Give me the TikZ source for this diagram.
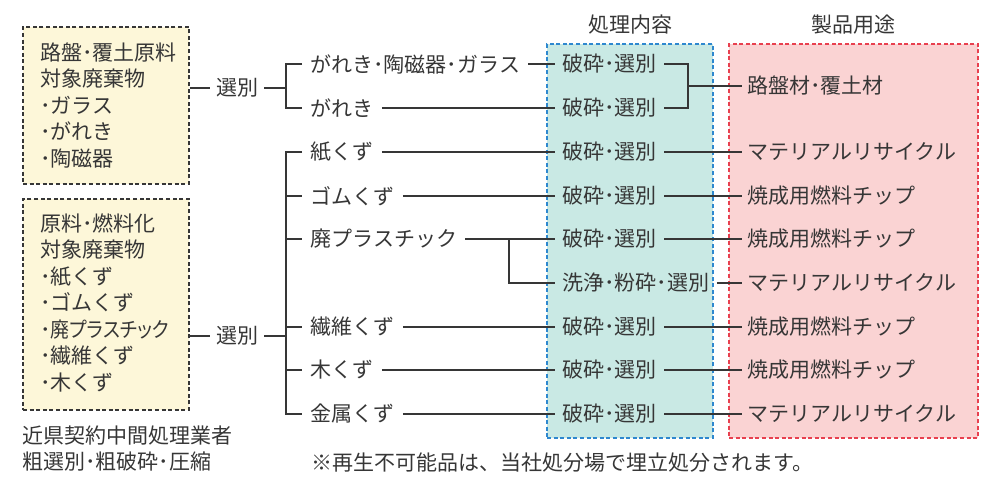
\documentclass[tikz,border=0pt]{standalone}
\usepackage{fontspec}
\usepackage{graphicx}
\setmainfont{Noto Sans CJK JP}
\newfontfamily\paltfont[RawFeature=+palt]{Noto Sans CJK JP}
\definecolor{ink}{HTML}{363636}
\definecolor{boxyellow}{HTML}{FDF7D9}
\definecolor{boxteal}{HTML}{C9E9E4}
\definecolor{boxred}{HTML}{FAD3D3}
\definecolor{edgeblue}{HTML}{2E88CF}
\definecolor{edgered}{HTML}{E8404F}
\begin{document}
\begin{tikzpicture}[x=0.5pt,y=-0.5pt,
  every node/.style={text=ink,font=\fontsize{10.5pt}{13.25pt}\selectfont},
  line/.style={draw=ink,line width=0.75pt},
  dashbox/.style={line width=0.7pt,dash pattern=on 2pt off 1.3pt},
  item/.style={anchor=west,inner xsep=4pt,inner ysep=0pt},
  proc/.style={anchor=west,inner xsep=3.5pt,inner ysep=0pt},
  prod/.style={anchor=west,inner xsep=2.5pt,inner ysep=0pt},
  sel/.style={inner xsep=3pt,inner ysep=0pt},
  txt/.style={anchor=north west,align=left,inner sep=0pt}]

\useasboundingbox (0,0) rectangle (1000,491);

% boxes
\node[dashbox,draw=ink,fill=boxyellow,minimum width=83pt,minimum height=78.5pt] (src1) at (106,105.5) {};
\node[dashbox,draw=ink,fill=boxyellow,minimum width=83pt,minimum height=105.5pt] (src2) at (106,304.5) {};
\node[dashbox,draw=edgeblue,fill=boxteal,minimum width=83pt,minimum height=197pt] (procbox) at (630,241) {};
\node[dashbox,draw=edgered,fill=boxred,minimum width=124.5pt,minimum height=197pt] (prodbox) at (853.5,241) {};

\node (prochead) at (630,25) {処理内容};
\node (prodhead) at (853.5,25) {製品用途};

\node[txt] (src1txt) at (40,42) {路盤･覆土原料\\対象廃棄物\\･ガラス\\･がれき\\･陶磁器};
\node[txt] (src2txt) at (40,213) {原料･燃料化\\対象廃棄物\\･紙くず\\･ゴムくず\\･\scalebox{0.9}[1]{\paltfont 廃プラスチック}\\･繊維くず\\･木くず};
\node[txt] (agent) at (22,425) {近県契約中間処理業者\\粗選別･粗破砕･圧縮};
\node[anchor=west,inner sep=0pt] (note) at (311,463) {※再生不可能品は、当社処分場で埋立処分されます。};

% sorting
\node[sel] (sel1) at (237,88) {選別};
\node[sel] (sel2) at (237,336) {選別};
\coordinate (fork1) at (286,88);
\coordinate (fork2) at (286,336);

% items
\node[item] (i1) at (302,64) {がれき･陶磁器･ガラス};
\node[item] (i2) at (302,108) {がれき};
\node[item] (i3) at (302,152) {紙くず};
\node[item] (i4) at (302,196) {ゴムくず};
\node[item] (i5) at (302,239) {廃プラスチック};
\node[item] (i6) at (302,327) {繊維くず};
\node[item] (i7) at (302,370) {木くず};
\node[item] (i8) at (302,414) {金属くず};

% treatment
\node[proc] (p1) at (555,64) {破砕･選別};
\node[proc] (p2) at (555,108) {破砕･選別};
\node[proc] (p3) at (555,152) {破砕･選別};
\node[proc] (p4) at (555,196) {破砕･選別};
\node[proc] (p5) at (555,239) {破砕･選別};
\node[proc] (p6) at (555,283) {洗浄･粉砕･選別};
\node[proc] (p7) at (555,327) {破砕･選別};
\node[proc] (p8) at (555,370) {破砕･選別};
\node[proc] (p9) at (555,414) {破砕･選別};

% products
\node[prod] (r1) at (742,86) {路盤材･覆土材};
\node[prod] (r3) at (742,152) {マテリアルリサイクル};
\node[prod] (r4) at (742,196) {焼成用燃料チップ};
\node[prod] (r5) at (742,239) {焼成用燃料チップ};
\node[prod] (r6) at (742,283) {マテリアルリサイクル};
\node[prod] (r7) at (742,327) {焼成用燃料チップ};
\node[prod] (r8) at (742,370) {焼成用燃料チップ};
\node[prod] (r9) at (742,414) {マテリアルリサイクル};

% connectors
\draw[line] (src1.east |- sel1) -- (sel1);
\draw[line] (sel1) -- (fork1);
\draw[line] (i1.west) -| (fork1) |- (i2.west);
\draw[line] (src2.east |- sel2) -- (sel2);
\draw[line] (sel2) -- (fork2);
\draw[line] (i3.west) -| (fork2) |- (i8.west);
\draw[line] (fork2 |- i4) -- (i4.west);
\draw[line] (fork2 |- i5) -- (i5.west);
\draw[line] (fork2 |- i6) -- (i6.west);
\draw[line] (fork2 |- i7) -- (i7.west);

\draw[line] (i1) -- (p1);
\draw[line] (i2) -- (p2);
\draw[line] (i3) -- (p3);
\draw[line] (i4) -- (p4);
\draw[line] (i5) -- (p5);
\coordinate (split) at (509,239);
\draw[line] (split) |- (p6.west);
\draw[line] (i6) -- (p7);
\draw[line] (i7) -- (p8);
\draw[line] (i8) -- (p9);

\coordinate (merge) at (688,86);
\draw[line] (p1) -| (merge) |- (p2);
\draw[line] (merge) -- (r1);
\draw[line] (p3) -- (r3);
\draw[line] (p4) -- (r4);
\draw[line] (p5) -- (r5);
\draw[line] (p6) -- (r6);
\draw[line] (p7) -- (r7);
\draw[line] (p8) -- (r8);
\draw[line] (p9) -- (r9);

\end{tikzpicture}
\end{document}
